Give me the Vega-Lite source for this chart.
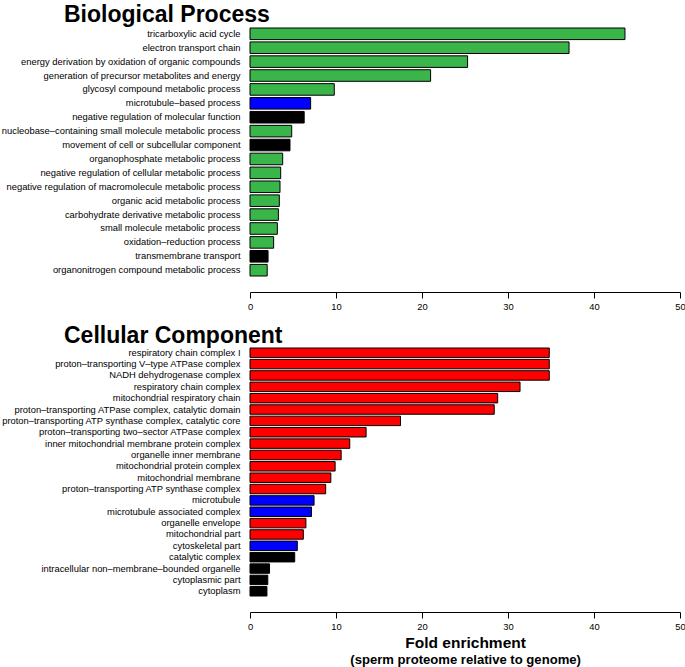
{
  "$schema": "https://vega.github.io/schema/vega-lite/v6.json",
  "padding": {"left": 0, "right": 0, "top": 3, "bottom": 0},
  "background": "white",
  "config": {
    "font": "Liberation Sans",
    "view": {"stroke": null},
    "title": {"color": "black", "fontWeight": "bold"},
    "axis": {"labelColor": "black", "domainColor": "black", "tickColor": "black", "grid": false}
  },
  "title": {
    "text": "Fold enrichment",
    "subtitle": "(sperm proteome relative to genome)",
    "orient": "bottom",
    "anchor": "middle",
    "fontSize": 15.5,
    "subtitleFontSize": 13.1,
    "subtitleFontWeight": "bold",
    "subtitleColor": "black",
    "subtitleFont": "Liberation Sans",
    "subtitlePadding": 2,
    "offset": 6,
    "dx": 123
  },
  "datasets": {
    "bp": [
      {"term": "tricarboxylic acid cycle", "fold": 43.6, "category": "metabolism"},
      {"term": "electron transport chain", "fold": 37.1, "category": "metabolism"},
      {"term": "energy derivation by oxidation of organic compounds", "fold": 25.3, "category": "metabolism"},
      {"term": "generation of precursor metabolites and energy", "fold": 21.0, "category": "metabolism"},
      {"term": "glycosyl compound metabolic process", "fold": 9.8, "category": "metabolism"},
      {"term": "microtubule–based process", "fold": 7.05, "category": "cytoskeleton"},
      {"term": "negative regulation of molecular function", "fold": 6.3, "category": "other"},
      {"term": "nucleobase–containing small molecule metabolic process", "fold": 4.85, "category": "metabolism"},
      {"term": "movement of cell or subcellular component", "fold": 4.65, "category": "other"},
      {"term": "organophosphate metabolic process", "fold": 3.8, "category": "metabolism"},
      {"term": "negative regulation of cellular metabolic process", "fold": 3.57, "category": "metabolism"},
      {"term": "negative regulation of macromolecule metabolic process", "fold": 3.49, "category": "metabolism"},
      {"term": "organic acid metabolic process", "fold": 3.41, "category": "metabolism"},
      {"term": "carbohydrate derivative metabolic process", "fold": 3.3, "category": "metabolism"},
      {"term": "small molecule metabolic process", "fold": 3.18, "category": "metabolism"},
      {"term": "oxidation–reduction process", "fold": 2.75, "category": "metabolism"},
      {"term": "transmembrane transport", "fold": 2.1, "category": "other"},
      {"term": "organonitrogen compound metabolic process", "fold": 2.0, "category": "metabolism"}
    ],
    "cc": [
      {"term": "respiratory chain complex I", "fold": 34.8, "category": "mitochondrion"},
      {"term": "proton–transporting V–type ATPase complex", "fold": 34.8, "category": "mitochondrion"},
      {"term": "NADH dehydrogenase complex", "fold": 34.8, "category": "mitochondrion"},
      {"term": "respiratory chain complex", "fold": 31.4, "category": "mitochondrion"},
      {"term": "mitochondrial respiratory chain", "fold": 28.8, "category": "mitochondrion"},
      {"term": "proton–transporting ATPase complex, catalytic domain", "fold": 28.4, "category": "mitochondrion"},
      {"term": "proton–transporting ATP synthase complex, catalytic core", "fold": 17.5, "category": "mitochondrion"},
      {"term": "proton–transporting two–sector ATPase complex", "fold": 13.5, "category": "mitochondrion"},
      {"term": "inner mitochondrial membrane protein complex", "fold": 11.6, "category": "mitochondrion"},
      {"term": "organelle inner membrane", "fold": 10.6, "category": "mitochondrion"},
      {"term": "mitochondrial protein complex", "fold": 9.9, "category": "mitochondrion"},
      {"term": "mitochondrial membrane", "fold": 9.4, "category": "mitochondrion"},
      {"term": "proton–transporting ATP synthase complex", "fold": 8.8, "category": "mitochondrion"},
      {"term": "microtubule", "fold": 7.45, "category": "cytoskeleton"},
      {"term": "microtubule associated complex", "fold": 7.15, "category": "cytoskeleton"},
      {"term": "organelle envelope", "fold": 6.5, "category": "mitochondrion"},
      {"term": "mitochondrial part", "fold": 6.2, "category": "mitochondrion"},
      {"term": "cytoskeletal part", "fold": 5.5, "category": "cytoskeleton"},
      {"term": "catalytic complex", "fold": 5.2, "category": "other"},
      {"term": "intracellular non–membrane–bounded organelle", "fold": 2.27, "category": "other"},
      {"term": "cytoplasmic part", "fold": 2.07, "category": "other"},
      {"term": "cytoplasm", "fold": 1.97, "category": "other"}
    ]
  },
  "spacing": 13,
  "vconcat": [
    {
      "data": {"name": "bp"},
      "title": {"text": "Biological Process", "anchor": "start", "frame": "bounds", "fontSize": 23, "dx": 64, "offset": 1},
      "width": 430,
      "height": 248,
      "mark": {"type": "bar", "stroke": "black", "strokeWidth": 1},
      "encoding": {
        "y": {"field": "term", "type": "nominal", "sort": null,
              "scale": {"paddingInner": 0.167, "paddingOuter": 0},
              "axis": {"title": null, "domain": false, "ticks": false, "labelPadding": 10, "labelFontSize": 9.4, "labelLimit": 400, "minExtent": 250, "maxExtent": 250}},
        "x": {"field": "fold", "type": "quantitative",
              "scale": {"domain": [0, 50], "nice": false},
              "axis": {"title": null, "values": [0, 10, 20, 30, 40, 50], "offset": 16, "tickSize": 6, "labelFontSize": 9.4, "labelPadding": 4, "labelFlush": false}},
        "color": {"field": "category", "type": "nominal", "legend": null,
                  "scale": {"domain": ["metabolism", "mitochondrion", "cytoskeleton", "other"], "range": ["#39B54A", "#FF0000", "#0000FF", "#000000"]}}
      }
    },
    {
      "data": {"name": "cc"},
      "title": {"text": "Cellular Component", "anchor": "start", "frame": "bounds", "fontSize": 23, "dx": 64, "offset": -0.5},
      "width": 430,
      "height": 248,
      "mark": {"type": "bar", "stroke": "black", "strokeWidth": 1},
      "encoding": {
        "y": {"field": "term", "type": "nominal", "sort": null,
              "scale": {"paddingInner": 0.167, "paddingOuter": 0},
              "axis": {"title": null, "domain": false, "ticks": false, "labelPadding": 10, "labelFontSize": 9.4, "labelLimit": 400, "minExtent": 250, "maxExtent": 250}},
        "x": {"field": "fold", "type": "quantitative",
              "scale": {"domain": [0, 50], "nice": false},
              "axis": {"title": null, "values": [0, 10, 20, 30, 40, 50], "offset": 16, "tickSize": 6, "labelFontSize": 9.4, "labelPadding": 4, "labelFlush": false}},
        "color": {"field": "category", "type": "nominal", "legend": null,
                  "scale": {"domain": ["metabolism", "mitochondrion", "cytoskeleton", "other"], "range": ["#39B54A", "#FF0000", "#0000FF", "#000000"]}}
      }
    }
  ]
}
